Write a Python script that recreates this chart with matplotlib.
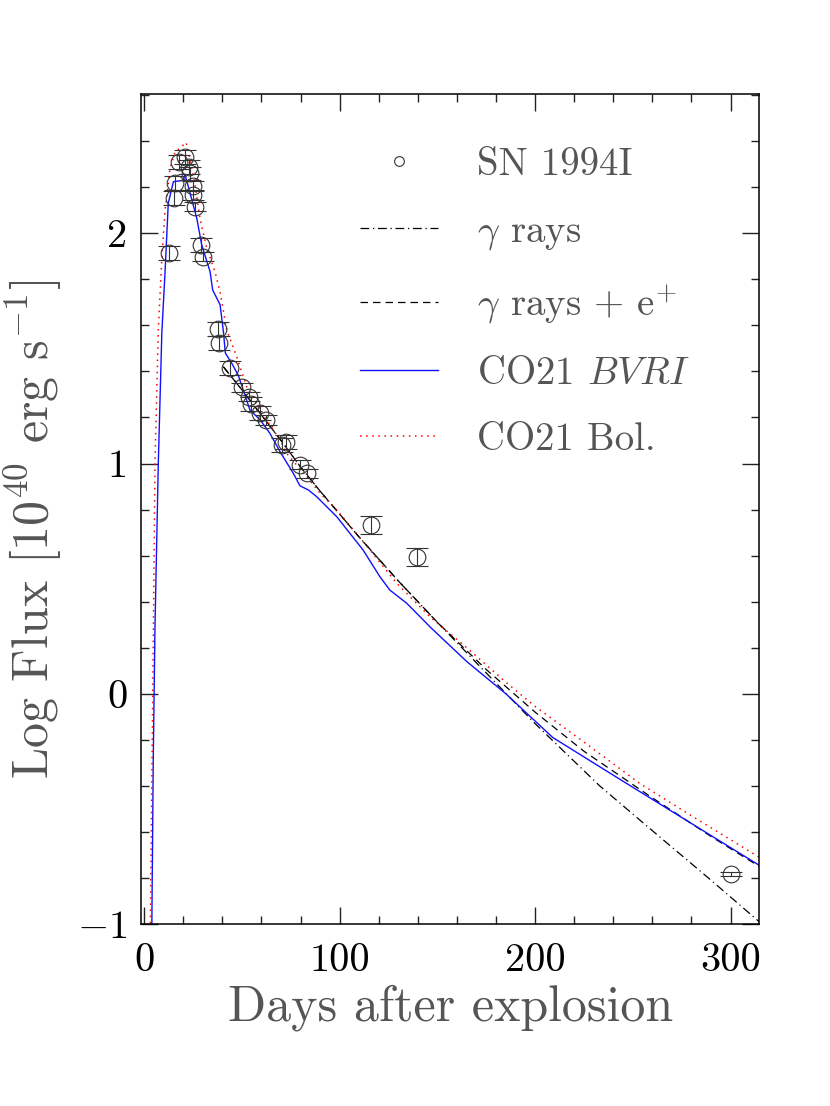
import matplotlib
matplotlib.use("Agg")
import matplotlib.pyplot as plt

# SN 1994I observations
obs_day = [12.8, 15.2, 15.8, 18.0, 20.9, 23.0, 23.4, 24.8, 25.1, 26.0, 28.9, 30.2,
           37.6, 38.4, 43.9, 50.2, 53.6, 54.6, 59.2, 62.3, 70.3, 72.5, 79.7, 83.1,
           116.0, 139.7, 300.0]
obs_flux = [1.916, 2.152, 2.217, 2.311, 2.333, 2.289, 2.260, 2.205, 2.166, 2.116, 1.949, 1.898,
            1.583, 1.525, 1.414, 1.331, 1.290, 1.258, 1.218, 1.189, 1.080, 1.095, 0.994, 0.957,
            0.733, 0.595, -0.783]
obs_err = [0.03, 0.03, 0.03, 0.03, 0.03, 0.03, 0.03, 0.02, 0.02, 0.02, 0.03, 0.02,
           0.03, 0.03, 0.03, 0.02, 0.02, 0.03, 0.03, 0.02, 0.03, 0.03, 0.02, 0.02,
           0.04, 0.04, 0.01]

# gamma-ray deposition models
gam_day = [40.5, 50, 60, 70, 80, 90, 100, 110, 120, 130, 140, 150, 175, 200, 233, 260, 290, 314.6]
gam_flux = [1.42, 1.32, 1.21, 1.10, 0.985, 0.88, 0.78, 0.68, 0.585, 0.49, 0.40, 0.31,
            0.09, -0.13, -0.40, -0.595, -0.81, -0.99]
pos_day = [40.5, 50, 60, 70, 80, 90, 100, 110, 120, 130, 140, 150, 175, 200, 225, 258.7, 290, 314.6]
pos_flux = [1.42, 1.32, 1.21, 1.10, 0.985, 0.88, 0.78, 0.68, 0.585, 0.49, 0.40, 0.31,
            0.105, -0.08, -0.25, -0.445, -0.62, -0.75]

# CO21 light curves
bvri_day = [3.85, 4.6, 5.5, 7.2, 9.0, 10.7, 12.3, 14.9, 20.0, 20.9, 21.7, 26.9, 29.4, 33.7,
            35.0, 38.8, 40.5, 41.5, 44.8, 48.1, 54.1, 59.3, 64.3, 69.5, 76.3, 79.7, 84.0,
            88.2, 98.5, 112.0, 120.6, 125.7, 134.3, 147.0, 165.0, 185.0, 209.0, 244.0, 314.6]
bvri_flux = [-1.05, -0.3, 0.29, 1.0, 1.566, 1.84, 2.13, 2.224, 2.23, 2.256, 2.23, 2.065, 1.95, 1.833,
             1.754, 1.69, 1.573, 1.48, 1.435, 1.384, 1.232, 1.19, 1.131, 1.051, 0.957, 0.903, 0.885,
             0.856, 0.769, 0.624, 0.508, 0.45, 0.393, 0.284, 0.14, 0.0, -0.19, -0.375, -0.745]
bol_day = [3.1, 4.7, 5.5, 7.2, 9.0, 10.6, 13.2, 15.8, 18.3, 21.4, 23.4, 26.0, 28.5, 32.0, 36.2,
           38.8, 42.2, 47.3, 52.4, 59.2, 69.5, 72.9, 83.1, 90.0, 98.5, 115.5, 129.2, 146.2,
           165.0, 185.0, 200.0, 225.0, 253.6, 280.0, 314.6]
bol_flux = [-1.05, 0.29, 1.0, 1.58, 1.89, 2.094, 2.28, 2.354, 2.37, 2.395, 2.326, 2.21, 2.065, 1.935,
            1.833, 1.746, 1.58, 1.464, 1.334, 1.232, 1.102, 1.044, 0.943, 0.871, 0.798, 0.624, 0.48,
            0.334, 0.20, 0.05, -0.055, -0.21, -0.39, -0.53, -0.71]

plt.rcParams['font.family'] = ['cmr10', 'DejaVu Serif']
plt.rcParams['mathtext.fontset'] = 'cm'
plt.rcParams['axes.unicode_minus'] = False

fig = plt.figure(figsize=(8.3, 11.06), dpi=100)
ax = fig.add_axes([0.170, 0.1646, 0.7446, 0.7504])

ax.plot(gam_day, gam_flux, color='black', lw=0.9, ls=(0, (7, 3, 1, 3)), label=r'$\gamma$ rays')
ax.plot(pos_day, pos_flux, color='black', lw=0.9, ls=(0, (6, 4)), label=r'$\gamma$ rays + e$^{+}$')
ax.plot(bvri_day, bvri_flux, color='#1010ff', lw=1.0, label=r'CO21 $BVRI$')
ax.plot(bol_day, bol_flux, color='red', lw=1.1, ls=(0, (1, 3)), label='CO21 Bol.')

ax.errorbar(obs_day, obs_flux, yerr=obs_err, fmt='o', ms=12, mfc='none', mec='#333333',
            mew=0.8, ecolor='#333333', elinewidth=0.8, capsize=8, capthick=0.8, zorder=5)
# legend marker for observations (small circle)
ax.plot([], [], 'o', ms=7, mfc='none', mec='#333333', mew=0.8, label='SN 1994I')

ax.set_xlim(-1.6, 314.6)
ax.set_ylim(-1, 2.605)
ax.set_xticks([0, 100, 200, 300])
ax.set_xticks(range(0, 320, 20), minor=True)
ax.set_yticks([-1, 0, 1, 2])
ax.set_yticks([v / 5 for v in range(-5, 14)], minor=True)
ax.set_yticklabels([r'$-1$', '0', '1', '2'])
ax.tick_params(which='both', direction='in', top=True, right=True, width=1.0, colors='#222222',
               labelsize=29, labelcolor='black')
ax.tick_params(which='major', length=12)
ax.tick_params(which='minor', length=6)
ax.tick_params(axis='x', pad=14)
ax.tick_params(axis='y', pad=10)
for s in ax.spines.values():
    s.set_linewidth(1.1)

ax.set_xlabel('Days after explosion', fontsize=36, color='#555555', labelpad=4)
ax.set_ylabel(r'Log Flux [10$^{40}$ erg s$^{-1}$]', fontsize=36, color='#555555', labelpad=0)
ax.yaxis.set_label_coords(-0.124, 0.475)

handles, labels = ax.get_legend_handles_labels()
order = [labels.index(l) for l in ['SN 1994I', r'$\gamma$ rays', r'$\gamma$ rays + e$^{+}$',
                                     r'CO21 $BVRI$', 'CO21 Bol.']]
leg = ax.legend([handles[i] for i in order], [labels[i] for i in order],
                loc='upper left', bbox_to_anchor=(0.354, 0.936), frameon=False,
                fontsize=28, handlelength=2.0, handletextpad=1.0, labelspacing=0.78,
                borderpad=0, borderaxespad=0)
for t in leg.get_texts():
    t.set_color('#555555')

fig.savefig('out.png', dpi=100)
